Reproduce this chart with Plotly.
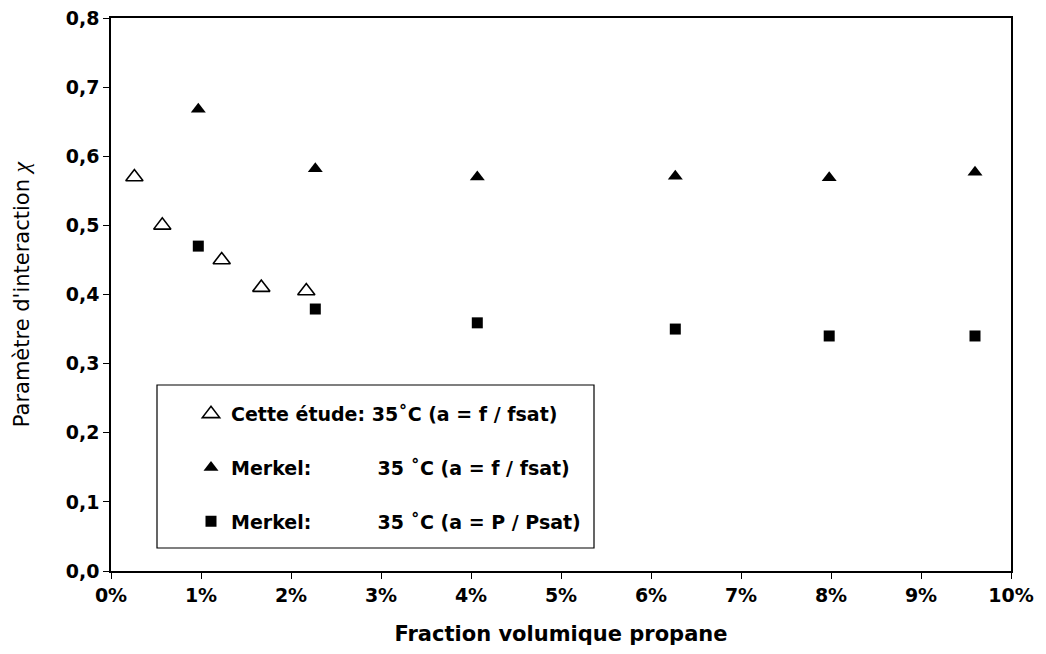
import plotly.graph_objects as go

# Data (x in % propane volume fraction, y = interaction parameter chi)
etude_x = [0.26, 0.57, 1.23, 1.67, 2.17]
etude_y = [0.57, 0.50, 0.45, 0.41, 0.405]

merkel_f_x = [0.97, 2.27, 4.07, 6.27, 7.98, 9.6]
merkel_f_y = [0.668, 0.582, 0.570, 0.571, 0.569, 0.577]

merkel_p_x = [0.97, 2.27, 4.07, 6.27, 7.98, 9.6]
merkel_p_y = [0.470, 0.379, 0.359, 0.350, 0.340, 0.340]

NB = "\u00a0"
names = [
    "Cette étude: 35˚C (a = f / fsat)",
    "Merkel:" + NB * 10 + "35 ˚C (a = f / fsat)",
    "Merkel:" + NB * 10 + "35 ˚C (a = P / Psat)",
]

x_ticks = list(range(0, 11))
x_ticktext = [f"{v}%" for v in x_ticks]
y_ticks = [0.0, 0.1, 0.2, 0.3, 0.4, 0.5, 0.6, 0.7, 0.8]

BOLD = "DejaVu Sans"

# page body has an 8px margin: figure placed at (8, 8)
W, H = 1030, 638
L, T = 103, 10
PW, PH = 900, 553

fig = go.Figure()
fig.add_trace(go.Scatter(
    x=etude_x, y=etude_y, mode="markers", name=names[0], legendgroup="a",
    marker=dict(symbol="triangle-up-open", size=15, color="black", line=dict(width=1.6, color="black")),
))
fig.add_trace(go.Scatter(
    x=merkel_f_x, y=merkel_f_y, mode="markers", name=names[1], legendgroup="b",
    marker=dict(symbol="triangle-up", size=13, color="black"),
))
fig.add_trace(go.Scatter(
    x=merkel_p_x, y=merkel_p_y, mode="markers", name=names[2], legendgroup="c",
    marker=dict(symbol="square", size=11, color="black"),
))

axis_common = dict(
    showgrid=False, zeroline=False, showline=True, linecolor="black", linewidth=1.5,
    mirror=True, ticks="outside", ticklen=6, tickwidth=1, tickcolor="black",
    automargin=False, ticklabeloverflow="allow",
    tickfont=dict(family=BOLD, size=19, color="black", weight="bold"),
)

def px_x(p):  # page pixel -> paper x
    return (p - 8 - L) / PW

def px_y(p):  # page pixel -> paper y
    return (T + 8 + PH - p) / PH

fig.update_layout(
    width=W, height=H,
    margin=dict(l=L, r=W - L - PW, t=T, b=H - T - PH),
    paper_bgcolor="white", plot_bgcolor="white",
    separators=", ",
    font=dict(family=BOLD, color="black"),
    xaxis=dict(
        range=[0, 10], tickvals=x_ticks, ticktext=x_ticktext,
        title=dict(text="Fraction volumique propane", standoff=22,
                   font=dict(family=BOLD, size=21, color="black", weight="bold")),
        **axis_common,
    ),
    yaxis=dict(
        range=[0, 0.8], tickvals=y_ticks, tickformat=".1f",
        title=dict(text="Paramètre d'interaction <span style=\"font-family:Liberation Serif;font-style:italic;font-size:24px\">χ</span>",
                   standoff=35, font=dict(family="DejaVu Sans", size=21, color="black")),
        **axis_common,
    ),
    showlegend=True,
    legend=dict(
        x=px_x(191), y=px_y(395), xanchor="left", yanchor="top",
        bgcolor="rgba(0,0,0,0)", borderwidth=0,
        font=dict(family=BOLD, size=19, color="black", weight="bold"),
        tracegroupgap=26, itemsizing="trace",
    ),
    shapes=[dict(
        type="rect", xref="paper", yref="paper",
        x0=px_x(157), x1=px_x(594),
        y0=px_y(548), y1=px_y(385),
        line=dict(color="black", width=1.2), fillcolor="rgba(0,0,0,0)",
    )],
)

fig.write_html("out.html")
